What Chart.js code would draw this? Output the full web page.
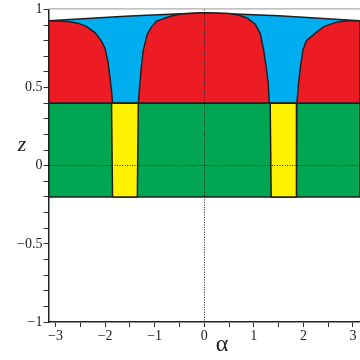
<!DOCTYPE html>
<html>
<head>
<meta charset="utf-8">
<script src="https://cdn.jsdelivr.net/npm/chart.js@4/dist/chart.umd.min.js"></script>
<style>body{margin:0;background:#fff;} canvas{display:block;}</style>
</head>
<body>
<canvas id="chart" width="360" height="360"></canvas>
<script>
const PI = Math.PI;

// region outlines, alpha / z pairs
const greenA = [-PI, PI, PI, -PI];
const greenZ = [-0.2, -0.2, 0.4, 0.4];

const yellowLeftA = [-1.85, -1.87, -1.33, -1.35];
const yellowLeftZ = [-0.2, 0.4, 0.4, -0.2];
const yellowRightA = [1.35, 1.33, 1.87, 1.86];
const yellowRightZ = [-0.2, 0.4, 0.4, -0.2];

const blueA = [-PI, -1.5, 0, 1.5, PI, PI, -PI];
const blueZ = [0.928, 0.958, 0.978, 0.959, 0.928, 0.4, 0.4];

const redLeftA = [-PI, -PI, -2.75, -2.55, -2.37, -2.2, -2.08, -2.0, -1.94, -1.9, -1.87, -1.85];
const redLeftZ = [0.4, 0.928, 0.922, 0.912, 0.89, 0.85, 0.80, 0.75, 0.66, 0.56, 0.48, 0.4];

const redMidA = [-1.33, -1.30, -1.27, -1.23, -1.15, -1.06, -0.96, -0.70, -0.48, 0, 0.5, 0.70, 0.86, 1.03, 1.13, 1.20, 1.25, 1.29, 1.31];
const redMidZ = [0.4, 0.52, 0.63, 0.74, 0.84, 0.89, 0.925, 0.955, 0.971, 0.978, 0.974, 0.962, 0.945, 0.905, 0.844, 0.736, 0.629, 0.525, 0.4];

const redRightA = [1.87, 1.90, 1.94, 1.99, 2.06, 2.21, 2.41, 2.68, 2.88, PI, PI];
const redRightZ = [0.4, 0.52, 0.63, 0.74, 0.80, 0.84, 0.89, 0.92, 0.927, 0.928, 0.4];

const xTitle = 'α';
const yTitle = 'z';

const RED = '#ED1C24', BLUE = '#00AEEF', GREEN = '#00A651', YELLOW = '#FFF200';
const EDGE = '#231F20';

function poly(a, z) {
    let pts = a.map((v, i) => ({x: v, y: z[i]}));
    pts.push(pts[0]);
    return pts;
}

function shape(a, z, col) {
    return {data: poly(a, z), backgroundColor: col, borderColor: EDGE, borderWidth: 1.5,
        fill: 'shape', pointRadius: 0, tension: 0};
}

const minus = s => String(s).replace('-', '\u2212');

const extras = {
    id: 'extras',
    afterDraw(chart) {
        const c = chart.ctx, a = chart.chartArea;
        c.save();
        c.strokeStyle = '#999';
        c.lineWidth = 1;
        c.beginPath();
        c.moveTo(a.left, a.top - 0.5);
        c.lineTo(chart.width, a.top - 0.5);
        c.stroke();
        c.fillStyle = '#222';
        c.textAlign = 'center';
        c.textBaseline = 'middle';
        c.font = 'italic 22px "Liberation Serif"';
        c.fillText(yTitle, 22, 145);
        c.font = '24px "Liberation Serif"';
        c.fillText(xTitle, 222, 345);
        c.restore();
    }
};

const zeroGrid = ctx => (ctx.tick && ctx.tick.value === 0) ? '#222' : 'rgba(0,0,0,0)';

new Chart(document.getElementById('chart'), {
    type: 'line',
    data: {
        datasets: [
            shape(yellowLeftA, yellowLeftZ, YELLOW),
            shape(yellowRightA, yellowRightZ, YELLOW),
            shape(greenA, greenZ, GREEN),
            shape(redLeftA, redLeftZ, RED),
            shape(redMidA, redMidZ, RED),
            shape(redRightA, redRightZ, RED),
            shape(blueA, blueZ, BLUE)
        ]
    },
    options: {
        responsive: false,
        animation: false,
        layout: {padding: {top: 8, right: 0, left: 0, bottom: 0}},
        plugins: {legend: {display: false}, tooltip: {enabled: false}},
        scales: {
            x: {
                type: 'linear', min: -PI, max: PI, z: 1,
                afterFit: s => { s.height = 38; },
                grid: {z: 1, color: zeroGrid, tickColor: '#333', tickLength: 5, lineWidth: 1},
                border: {z: 1, color: '#222', width: 1.5, dash: [1, 1.5]},
                ticks: {stepSize: 0.5, includeBounds: false, autoSkip: false, maxRotation: 0, padding: 1,
                    color: '#222', font: {family: 'Liberation Serif', size: 14},
                    callback: v => Number.isInteger(v) ? minus(v) : ''}
            },
            y: {
                type: 'linear', min: -1, max: 1, z: 1,
                afterFit: s => { s.width = 48.5; },
                grid: {z: 1, color: zeroGrid, tickColor: '#333', tickLength: 5, lineWidth: 1},
                border: {z: 1, color: '#222', width: 1.5, dash: [1, 1.5]},
                ticks: {stepSize: 0.1, maxTicksLimit: 100, autoSkip: false, padding: 1,
                    color: '#222', font: {family: 'Liberation Serif', size: 14},
                    callback: v => Math.abs(v * 2 - Math.round(v * 2)) < 1e-6 ? minus(v) : ''}
            }
        }
    },
    plugins: [extras]
});
</script>
</body>
</html>
